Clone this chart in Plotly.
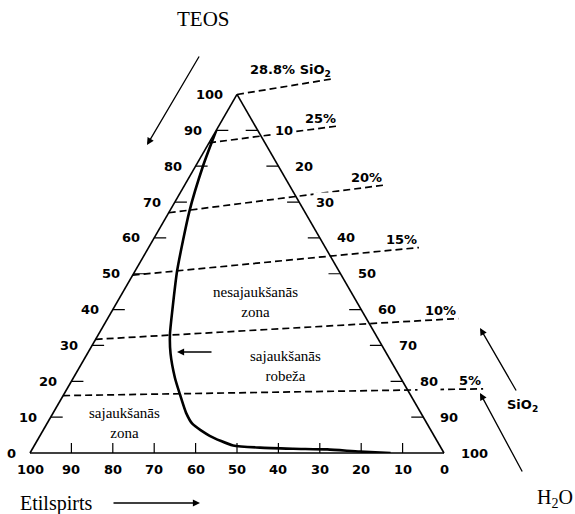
import math
import plotly.graph_objects as go

# ---------------------------------------------------------------------------
# Data: TEOS / ethanol (Etilspirts) / water system, mass %
# ---------------------------------------------------------------------------
# Miscibility boundary (sajaukšanās robeža)
curve_teos = [90.0, 79.9, 67.4, 50.9, 40.0, 33.0, 27.7, 21.0, 16.4, 11.2, 8.1, 4.8, 2.1, 1.5, 1.2, 1.0, 0.4, 0.0]
curve_ethanol = [10.0, 18.3, 27.8, 39.0, 45.6, 49.7, 52.2, 54.5, 55.6, 56.7, 56.7, 54.2, 49.9, 43.7, 35.8, 27.7, 20.1, 12.9]
curve_water = [0.0, 1.8, 4.8, 10.1, 14.4, 17.3, 20.1, 24.5, 28.0, 32.1, 35.2, 41.0, 48.0, 54.8, 63.0, 71.3, 79.5, 87.1]

# Lines of constant SiO2 content: start on the ethanol–TEOS edge, run past the TEOS–water edge
sio2_labels = ["28.8% SiO<sub>2</sub>", "25%", "20%", "15%", "10%", "5%"]
iso_start_teos = [100.0, 86.5, 67.0, 49.6, 31.7, 16.0]
iso_end_teos = [104.4, 91.2, 74.7, 57.3, 37.5, 17.9]
iso_end_ethanol = [-25.5, -19.9, -22.8, -22.6, -22.2, -18.4]
iso_end_water = [21.1, 28.7, 48.1, 65.3, 84.7, 100.5]

# Axis ticks
teos_ticks = [0, 10, 20, 30, 40, 50, 60, 70, 80, 90, 100]
ethanol_ticks = [100, 90, 80, 70, 60, 50, 40, 30, 20, 10, 0]
water_ticks = [10, 20, 30, 40, 50, 60, 70, 80, 90, 100]
tick_marks = [10, 20, 30, 40, 50, 60, 70, 80, 90]

# ---------------------------------------------------------------------------
# Geometry of the page
# ---------------------------------------------------------------------------
FIG_W, FIG_H = 575, 514
TRI_L, TRI_R, TRI_BASE = 30, 444, 453
SIDE = TRI_R - TRI_L
TRI_H = SIDE * math.sqrt(3) / 2


def px(x):
    return x / FIG_W


def py(y):
    return 1 - y / FIG_H


def to_xy(a, b, c):
    """Ternary composition -> cartesian overlay coordinates (side length = 1)."""
    s = a + b + c
    return (c + a / 2) / s, (a / s) * math.sqrt(3) / 2


BLACK = "black"
SANS = dict(family="DejaVu Sans", size=13, color=BLACK, weight="bold")
SERIF = "Liberation Serif"

fig = go.Figure()

# Inward tick marks (horizontal on the side edges, vertical on the base)
HL = 2.9   # horizontal tick length, %
VL = 2.8   # vertical tick length, %
ta, tb, tc = [], [], []
for t in tick_marks:
    ta += [t, t, None]
    tb += [100 - t, 100 - t - HL, None]
    tc += [0, HL, None]
for t in tick_marks:
    ta += [0, VL, None]
    tb += [t, t - VL / 2, None]
    tc += [100 - t, 100 - t - VL / 2, None]
for t in tick_marks:
    ta += [100 - t, 100 - t, None]
    tb += [0, HL, None]
    tc += [t, t - HL, None]
fig.add_trace(go.Scatterternary(a=ta, b=tb, c=tc, mode="lines",
                                line=dict(color=BLACK, width=1.2),
                                hoverinfo="skip", showlegend=False))

# Miscibility boundary curve
fig.add_trace(go.Scatterternary(a=curve_teos, b=curve_ethanol, c=curve_water,
                                mode="lines",
                                line=dict(color=BLACK, width=2.6, shape="spline", smoothing=0.6),
                                showlegend=False))

# Constant-SiO2 dashed lines (cartesian overlay so they can leave the triangle)
lx, ly = [], []
label_pts = []
for a0, a1, b1, c1 in zip(iso_start_teos, iso_end_teos, iso_end_ethanol, iso_end_water):
    x0, y0 = to_xy(a0, 100 - a0, 0)
    x1, y1 = to_xy(a1, b1, c1)
    lx += [x0, x1, None]
    ly += [y0, y1, None]
    label_pts.append((x1, y1))
fig.add_trace(go.Scatter(x=lx, y=ly, mode="lines", xaxis="x", yaxis="y",
                         line=dict(color=BLACK, width=1.7, dash="7px,4px"),
                         hoverinfo="skip", showlegend=False))

annotations = []
for text, (x1, y1) in zip(sio2_labels, label_pts):
    annotations.append(dict(x=x1, y=y1, xref="x", yref="y", text=text, showarrow=False,
                            xanchor="right", yanchor="middle", yshift=8,
                            font=SANS))

# Tick labels, kept level with their tick marks
for t in teos_ticks:
    x, y = to_xy(t, 100 - t, 0)
    annotations.append(dict(x=x, y=y, xref="x", yref="y", text=str(t), showarrow=False,
                            xanchor="right", yanchor="middle", xshift=-12, font=SANS))
for t in ethanol_ticks:
    x, y = to_xy(0, t, 100 - t)
    annotations.append(dict(x=x, y=y, xref="x", yref="y", text=str(t), showarrow=False,
                            xanchor="center", yanchor="top", yshift=-7, font=SANS))
for t in water_ticks:
    x, y = to_xy(100 - t, 0, t)
    annotations.append(dict(x=x, y=y, xref="x", yref="y", text=str(t), showarrow=False,
                            xanchor="left", yanchor="middle", xshift=14, font=SANS,
                            bgcolor="white", borderpad=2))


def arrow(x_tail, y_tail, x_head, y_head, width=1.3):
    return dict(x=px(x_head), y=py(y_head), xref="paper", yref="paper",
                ax=x_tail - x_head, ay=y_tail - y_head, axref="pixel", ayref="pixel",
                showarrow=True, arrowhead=2, arrowsize=1.1, arrowwidth=width,
                arrowcolor=BLACK, text="")


annotations += [
    arrow(200, 55, 147, 145),
    arrow(517, 392, 480, 328),
    arrow(523, 473, 480, 393),
    arrow(112, 503, 200, 503),
    arrow(213, 352, 177, 352),
]


def label(text, x, y, family=SERIF, size=13, weight="normal"):
    return dict(x=px(x), y=py(y), xref="paper", yref="paper", text=text,
                showarrow=False, xanchor="center", yanchor="middle",
                font=dict(family=family, size=size, color=BLACK, weight=weight))


annotations += [
    label("TEOS", 204, 19, size=21),
    label("Etilspirts", 56, 503, size=20),
    label("H<sub>2</sub>O", 555, 498, size=20),
    label("SiO<sub>2</sub>", 522, 405, family="DejaVu Sans", size=13, weight="bold"),
    label("nesajaukšanās<br>zona", 255, 302, size=15),
    label("sajaukšanās<br>robeža", 285, 366, size=15),
    label("sajaukšanās<br>zona", 124, 423, size=15),
]

TERNARY_AXIS = dict(title=dict(text=""), showticklabels=False, ticks="", showgrid=False,
                    showline=True, linecolor=BLACK, linewidth=1.6)

fig.update_layout(
    width=FIG_W, height=FIG_H,
    margin=dict(l=0, r=0, t=0, b=0),
    paper_bgcolor="white", plot_bgcolor="rgba(0,0,0,0)",
    showlegend=False,
    xaxis=dict(domain=[0, 1], range=[-TRI_L / SIDE, (FIG_W - TRI_L) / SIDE], visible=False),
    yaxis=dict(domain=[0, 1], range=[(TRI_BASE - FIG_H) / SIDE, TRI_BASE / SIDE], visible=False),
    ternary=dict(
        sum=100,
        bgcolor="rgba(0,0,0,0)",
        domain=dict(x=[px(TRI_L), px(TRI_R)], y=[py(TRI_BASE), py(TRI_BASE - TRI_H)]),
        aaxis=TERNARY_AXIS,
        baxis=TERNARY_AXIS,
        caxis=TERNARY_AXIS,
    ),
    annotations=annotations,
)

fig.write_html("out.html")
